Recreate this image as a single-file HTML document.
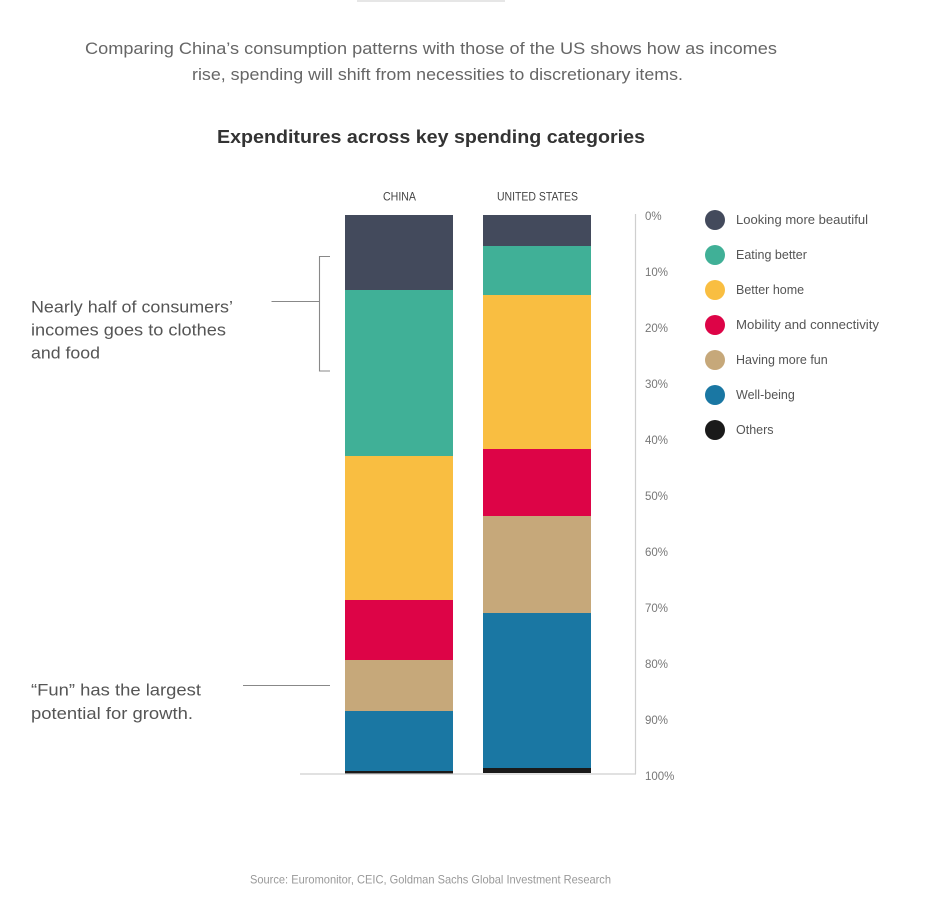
<!DOCTYPE html>
<html>
<head>
<meta charset="utf-8">
<style>
  html,body{margin:0;padding:0;background:#fff;}
  svg{display:block;}
  text{font-family:"Liberation Sans",sans-serif;}
</style>
</head>
<body>
<svg width="925" height="922" viewBox="0 0 925 922" xmlns="http://www.w3.org/2000/svg">
  <rect x="0" y="0" width="925" height="922" fill="#fff"/>
  <!-- top grey bar -->
  <rect x="357" y="0" width="148" height="2" fill="#e6e6e6"/>

  <!-- intro paragraph -->
  <text x="85" y="54" font-size="16.5" fill="#666" textLength="692" lengthAdjust="spacingAndGlyphs">Comparing China’s consumption patterns with those of the US shows how as incomes</text>
  <text x="192" y="80" font-size="16.5" fill="#666" textLength="491" lengthAdjust="spacingAndGlyphs">rise, spending will shift from necessities to discretionary items.</text>

  <!-- heading -->
  <text x="217" y="143" font-size="18" font-weight="bold" fill="#333" textLength="428" lengthAdjust="spacingAndGlyphs">Expenditures across key spending categories</text>

  <!-- column labels -->
  <text x="383" y="200.5" font-size="12" fill="#444" textLength="33" lengthAdjust="spacingAndGlyphs">CHINA</text>
  <text x="497" y="200.5" font-size="12" fill="#444" textLength="81" lengthAdjust="spacingAndGlyphs">UNITED STATES</text>

  <!-- China bar -->
  <rect x="345" y="215" width="108" height="75" fill="#434a5c"/>
  <rect x="345" y="290" width="108" height="166" fill="#40b097"/>
  <rect x="345" y="456" width="108" height="144" fill="#f9be41"/>
  <rect x="345" y="600" width="108" height="60" fill="#dd0447"/>
  <rect x="345" y="660" width="108" height="51" fill="#c6a87a"/>
  <rect x="345" y="711" width="108" height="60" fill="#1a77a3"/>
  <rect x="345" y="771" width="108" height="2.5" fill="#1a1a1a"/>

  <!-- US bar -->
  <rect x="483" y="215" width="108" height="31" fill="#434a5c"/>
  <rect x="483" y="246" width="108" height="49" fill="#40b097"/>
  <rect x="483" y="295" width="108" height="154" fill="#f9be41"/>
  <rect x="483" y="449" width="108" height="67" fill="#dd0447"/>
  <rect x="483" y="516" width="108" height="97" fill="#c6a87a"/>
  <rect x="483" y="613" width="108" height="155" fill="#1a77a3"/>
  <rect x="483" y="768" width="108" height="5" fill="#1a1a1a"/>

  <!-- axes -->
  <line x1="300" y1="774" x2="636" y2="774" stroke="#cfcfcf" stroke-width="1.2"/>
  <line x1="635.5" y1="214" x2="635.5" y2="774" stroke="#cfcfcf" stroke-width="1.2"/>

  <!-- tick labels -->
  <g font-size="11.5" fill="#777">
    <text x="645" y="220">0%</text>
    <text x="645" y="276">10%</text>
    <text x="645" y="332">20%</text>
    <text x="645" y="388">30%</text>
    <text x="645" y="444">40%</text>
    <text x="645" y="500">50%</text>
    <text x="645" y="556">60%</text>
    <text x="645" y="612">70%</text>
    <text x="645" y="668">80%</text>
    <text x="645" y="724">90%</text>
    <text x="645" y="780">100%</text>
  </g>

  <!-- legend -->
  <g>
    <circle cx="715" cy="220" r="10" fill="#434a5c"/>
    <circle cx="715" cy="255" r="10" fill="#40b097"/>
    <circle cx="715" cy="290" r="10" fill="#f9be41"/>
    <circle cx="715" cy="325" r="10" fill="#dd0447"/>
    <circle cx="715" cy="360" r="10" fill="#c6a87a"/>
    <circle cx="715" cy="395" r="10" fill="#1a77a3"/>
    <circle cx="715" cy="430" r="10" fill="#1a1a1a"/>
  </g>
  <g font-size="12.5" fill="#555">
    <text x="736" y="224" textLength="132" lengthAdjust="spacingAndGlyphs">Looking more beautiful</text>
    <text x="736" y="259">Eating better</text>
    <text x="736" y="294">Better home</text>
    <text x="736" y="329" textLength="143" lengthAdjust="spacingAndGlyphs">Mobility and connectivity</text>
    <text x="736" y="364">Having more fun</text>
    <text x="736" y="399">Well-being</text>
    <text x="736" y="434">Others</text>
  </g>

  <!-- annotation 1 -->
  <g font-size="17" fill="#555">
    <text x="31" y="312.5" textLength="202" lengthAdjust="spacingAndGlyphs">Nearly half of consumers’</text>
    <text x="31" y="335.5" textLength="195" lengthAdjust="spacingAndGlyphs">incomes goes to clothes</text>
    <text x="31" y="358.5" textLength="69" lengthAdjust="spacingAndGlyphs">and food</text>
  </g>
  <g stroke="#888" stroke-width="1.1" fill="none">
    <line x1="271.5" y1="301.5" x2="319.5" y2="301.5"/>
    <polyline points="330,256.5 319.5,256.5 319.5,371 330,371"/>
  </g>

  <!-- annotation 2 -->
  <g font-size="17" fill="#555">
    <text x="31" y="695.5" textLength="170" lengthAdjust="spacingAndGlyphs">“Fun” has the largest</text>
    <text x="31" y="719" textLength="162" lengthAdjust="spacingAndGlyphs">potential for growth.</text>
  </g>
  <line x1="243" y1="685.5" x2="330" y2="685.5" stroke="#888" stroke-width="1.1"/>

  <!-- source -->
  <text x="250" y="883.5" font-size="12" fill="#999" textLength="361" lengthAdjust="spacingAndGlyphs">Source: Euromonitor, CEIC, Goldman Sachs Global Investment Research</text>
</svg>
</body>
</html>
